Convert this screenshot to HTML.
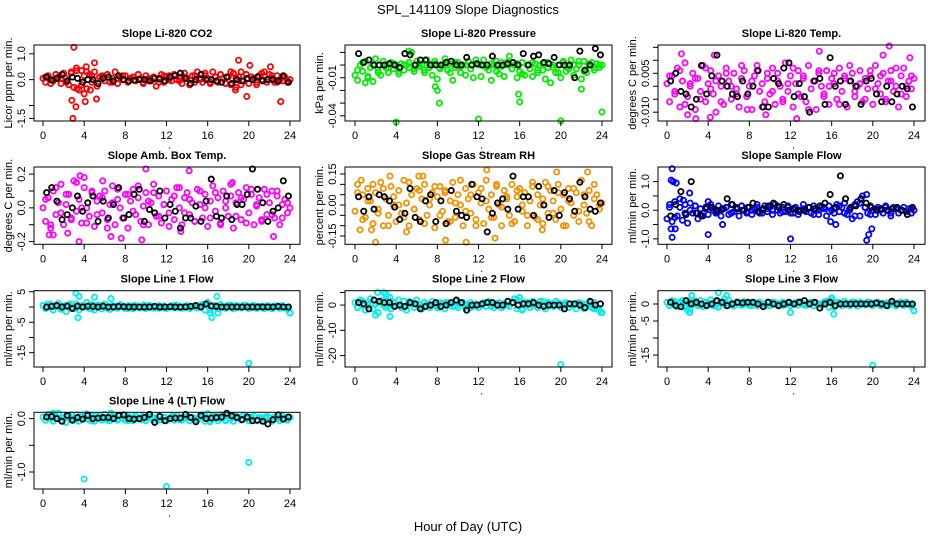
<!DOCTYPE html>
<html><head><meta charset="utf-8">
<style>
html,body{margin:0;padding:0;background:#fff;}
svg{display:block;font-family:"Liberation Sans",sans-serif;}
</style></head>
<body>
<svg id="chart" width="936" height="540" viewBox="0 0 936 540" xmlns="http://www.w3.org/2000/svg">
<rect x="0" y="0" width="936" height="540" fill="#fff"/>
<text x="468" y="14" font-size="13" text-anchor="middle">SPL_141109  Slope Diagnostics</text>
<text x="468" y="531" font-size="13" text-anchor="middle">Hour of Day (UTC)</text>
</svg>
<script>
const xTicks = [0,4,8,12,16,20,24];

const co2Colored = [0.05,-0.1,0.15,0.0,-0.05,0.2,0.1,-0.15,0.25,0.05,-0.2,0.3,-0.3,0.45,-0.4,0.35,0.15,-0.35,0.2,-0.1,0.3,-0.25,0.1,0.15,-0.05,0.2,-0.1,0.05,0.3,-0.15,0.1,0.0,0.15,-0.1,0.05,0.1,-0.05,0.2,0.05,-0.1,0.15,0.0,-0.05,0.1,-0.25,0.05,0.2,-0.1,0.1,0.15,-0.05,0.2,0.0,0.1,-0.15,0.25,0.05,-0.2,0.15,-0.1,0.3,0.0,-0.1,0.15,0.05,-0.15,0.3,0.1,-0.1,0.2,0.05,-0.15,0.1,-0.2,0.25,-0.3,0.1,0.3,-0.05,0.2,-0.15,0.1,0.05,-0.2,0.15,0.0,0.3,-0.1,0.2,0.05,-0.1,0.15,0.0,-0.05,0.1,-0.1,0.0];
const co2Colored2 = [0.1,-0.15,0.2,0.05,-0.1,0.25,0.35,-0.2,0.3,0.15,-0.25,0.1,0.2,-0.1,0.05,0.15,-0.05,0.1,0.2,-0.15,0.05,0.1,-0.1,0.15,0.0,0.2,-0.05,0.1,-0.2,0.15,0.05,0.25,-0.1,0.1,0.2,-0.15,0.3,0.05,-0.2,0.2,0.1,-0.1,0.25,0.0,0.15,-0.1,0.1,-0.05];
const co2Outliers = [[3.0,1.25],[2.9,-1.5],[2.8,-0.8],[3.2,-1.05],[3.3,-0.35],[4.1,-0.85],[4.0,-0.55],[4.6,-0.4],[5.0,0.65],[5.2,-0.75],[4.2,0.5],[19.0,0.75],[19.8,-0.65],[20.1,0.55],[22.1,0.5],[23.1,-0.85],[18.7,-0.4]];
const co2Black = [0.1,-0.02,0.05,0.2,-0.05,0.1,0.05,-0.1,0.0,0.0,-0.15,0.05,0.1,-0.05,0.15,0.0,-0.05,-0.02,0.0,0.0,-0.05,0.05,0.02,-0.05,0.1,0.15,0.25,0.05,-0.15,0.0,0.2,0.0,0.0,-0.05,-0.1,0.1,-0.15,0.0,-0.05,0.05,0.0,0.1,-0.05,0.0,0.0,-0.05,0.15,-0.1];

const presColored = [-0.008,-0.012,0.0,-0.005,0.003,-0.01,-0.002,-0.013,0.005,-0.004,-0.008,0.0,-0.002,-0.006,0.002,-0.003,0.0,-0.007,0.001,-0.004,0.0,-0.002,0.01,-0.005,0.003,-0.001,0.0,-0.006,0.004,-0.002,-0.008,0.001,-0.011,-0.003,0.0,0.005,-0.004,0.001,-0.012,-0.002,0.002,-0.006,0.0,-0.008,0.003,-0.003,-0.01,0.001,0.0,-0.009,0.004,-0.002,-0.004,-0.012,0.0,0.003,-0.007,-0.001,-0.009,0.002,0.007,-0.003,0.0,-0.01,-0.005,0.002,-0.008,0.0,-0.003,-0.009,0.001,-0.006,0.0,-0.004,-0.011,0.002,-0.014,-0.002,-0.006,0.0,-0.01,0.003,-0.005,-0.001,0.004,-0.008,-0.003,0.0,-0.011,0.003,-0.006,0.0,0.002,-0.004,0.001,-0.002,0.0];
const presColored2 = [-0.004,0.002,-0.009,0.0,-0.006,0.003,-0.002,0.001,-0.005,0.0,0.002,-0.003,0.001,-0.004,0.0,0.003,-0.002,0.0,-0.006,0.002,-0.001,0.0,-0.003,0.004,0.0,-0.002,0.001,-0.005,0.002,0.0,-0.003,0.001,-0.007,0.0,0.002,-0.004,0.001,-0.002,0.0,-0.006,0.002,-0.003,0.0,0.003,-0.005,0.001,-0.002,0.0];
const presOutliers = [[1.0,-0.014],[5.2,0.011],[8.0,-0.02],[8.2,-0.03],[4.0,-0.045],[12.0,-0.0425],[15.9,-0.023],[16.0,-0.029],[20.0,-0.044],[24.0,-0.037],[7.8,-0.017],[22.0,-0.019]];
const presBlack = [0.009,0.002,0.004,0.0,0.0,0.0,0.001,0.0,-0.002,0.009,0.008,0.0,0.004,0.004,0.0,0.0,0.0,0.002,0.003,0.0,0.0,0.006,0.0,0.001,0.0,0.0,0.007,0.0,0.0,0.001,0.002,0.0,0.009,0.0,0.007,0.008,0.002,0.001,0.006,0.0,0.0,0.0,-0.01,0.011,-0.004,0.0,0.013,0.008];

const tempColored = [0.001,-0.006,0.004,-0.003,0.007,-0.008,0.002,0.009,-0.004,0.0,0.005,-0.009,0.003,-0.002,0.008,-0.006,0.001,0.006,-0.003,-0.01,0.004,0.0,-0.007,0.007,0.002,-0.005,0.005,-0.001,-0.008,0.003,0.006,-0.004,0.0,-0.009,0.004,0.008,-0.002,0.001,-0.006,0.005,-0.003,0.007,-0.007,0.002,0.0,-0.005,0.009,-0.002,0.004,-0.008,0.001,0.006,-0.004,0.003,-0.006,0.008,-0.001,0.002,-0.009,0.005,0.0,-0.003,0.006,-0.007,0.003,0.001,-0.005,0.007,-0.002,0.004,-0.008,0.002,0.005,-0.004,0.0,0.006,-0.006,0.003,-0.001,0.004,-0.007,0.008,0.001,-0.003,0.005,-0.005,0.002,0.006,-0.002,0.0,-0.008,0.004,0.007,-0.004,0.002,-0.001,0.003];
const tempColored2 = [0.004,-0.002,0.006,-0.007,0.001,0.003,-0.005,0.007,-0.001,0.002,-0.006,0.005,0.0,-0.003,0.008,-0.004,0.002,0.006,-0.008,0.003,-0.002,0.005,-0.006,0.001,0.007,-0.003,0.004,-0.009,0.002,0.006,-0.004,0.0,0.005,-0.007,0.003,0.008,-0.002,0.001,-0.005,0.006,-0.001,0.004,-0.006,0.002,0.007,-0.003,0.0,0.004];
const tempOutliers = [[2.0,-0.011],[2.8,-0.0125],[4.2,-0.012],[1.4,0.0125],[4.6,0.012],[9.6,-0.011],[12.6,-0.0125],[14.8,0.0135],[21.6,0.0155],[21.0,0.012],[23.6,0.011],[7.8,-0.009]];
const tempBlack = [0.002,0.005,-0.002,-0.003,-0.008,-0.005,0.008,-0.003,0.004,0.012,0.002,0.0,-0.003,-0.004,0.002,-0.003,0.0,0.006,-0.008,-0.008,0.003,0.001,0.007,0.009,-0.004,0.001,-0.004,-0.01,0.002,0.003,-0.007,0.011,0.0,0.002,-0.007,0.002,0.0,-0.007,0.002,0.003,-0.003,-0.006,0.0,-0.006,-0.003,0.0,-0.001,-0.008];

const ambColored = [0.0,-0.08,0.06,-0.12,0.1,-0.04,0.03,0.14,-0.1,0.02,0.08,-0.06,0.16,-0.02,0.05,-0.09,0.12,0.0,-0.05,0.09,-0.11,0.04,0.07,-0.03,0.1,-0.07,0.02,0.13,-0.1,0.05,0.0,-0.06,0.08,-0.12,0.04,0.11,-0.04,0.06,-0.08,0.01,0.09,-0.1,0.03,0.14,-0.05,0.07,-0.09,0.02,0.1,-0.03,0.05,-0.07,0.12,0.0,-0.1,0.06,0.09,-0.04,0.03,-0.08,0.11,0.02,-0.06,0.08,-0.11,0.04,0.13,-0.02,0.06,-0.09,0.1,0.0,-0.05,0.07,-0.12,0.03,0.09,-0.07,0.05,0.12,-0.03,0.08,-0.1,0.01,0.06,-0.08,0.11,-0.04,0.03,0.1,-0.06,0.07,-0.1,0.02,0.05,-0.03,0.0];
const ambColored2 = [0.05,-0.1,0.12,-0.03,0.08,-0.07,0.15,0.0,-0.09,0.1,-0.04,0.06,-0.12,0.03,0.11,-0.06,0.08,-0.02,0.13,-0.1,0.04,0.09,-0.05,0.02,-0.11,0.07,0.12,-0.03,0.05,-0.08,0.1,0.0,-0.06,0.09,-0.1,0.04,0.14,-0.05,0.06,-0.09,0.11,0.02,-0.07,0.08,-0.04,0.1,-0.06,0.03];
const ambOutliers = [[3.6,0.19],[3.5,-0.2],[1.0,-0.16],[0.6,-0.16],[2.4,-0.15],[6.6,-0.17],[7.6,-0.18],[9.6,-0.19],[10.0,0.23],[14.2,0.22],[13.4,-0.14],[22.4,-0.17],[4.0,0.18],[5.8,0.16],[18.4,0.15]];
const ambBlack = [0.09,0.12,0.04,-0.07,-0.04,0.0,0.07,-0.02,0.03,0.07,-0.08,0.04,-0.06,0.02,0.12,-0.06,-0.04,0.08,0.11,-0.08,-0.01,-0.03,0.1,-0.06,0.02,-0.02,-0.12,-0.06,-0.06,0.01,-0.08,0.04,0.17,-0.05,-0.06,0.07,-0.07,0.02,0.02,0.08,0.23,0.11,0.03,-0.08,-0.02,0.0,0.16,0.07];

const rhColored = [-0.03,0.1,-0.12,0.05,-0.06,0.08,0.02,-0.09,0.06,-0.02,0.11,-0.1,0.03,-0.05,0.09,0.0,-0.08,0.07,-0.04,0.12,0.01,-0.1,0.05,-0.02,0.08,-0.07,0.03,0.1,-0.05,0.0,0.06,-0.11,0.04,0.09,-0.03,0.07,-0.08,0.02,0.11,-0.06,0.05,0.0,-0.1,0.08,0.03,-0.04,0.1,-0.07,0.06,0.01,-0.09,0.12,-0.02,0.05,-0.06,0.09,0.0,-0.1,0.07,0.03,-0.05,0.1,-0.08,0.04,0.08,-0.03,0.06,-0.1,0.02,0.09,-0.06,0.05,0.0,-0.09,0.11,-0.04,0.07,0.02,-0.07,0.1,-0.02,0.05,-0.1,0.08,0.01,-0.05,0.06,-0.08,0.12,0.0,-0.04,0.07,-0.1,0.03,0.05,-0.02,0.01];
const rhColored2 = [0.06,-0.07,0.02,0.1,-0.04,0.08,-0.1,0.04,0.0,-0.06,0.11,-0.02,0.07,-0.09,0.03,0.09,-0.05,0.06,-0.08,0.01,0.12,-0.03,0.05,-0.1,0.08,0.02,-0.06,0.1,-0.01,0.04,-0.09,0.07,0.0,-0.05,0.11,-0.07,0.03,0.09,-0.04,0.06,-0.1,0.02,0.08,-0.03,0.05,-0.08,0.1,0.0];
const rhOutliers = [[2.0,-0.18],[1.6,-0.12],[3.4,0.14],[6.2,0.14],[6.6,0.14],[5.0,-0.13],[8.8,-0.17],[10.8,-0.18],[12.8,0.17],[13.6,-0.16],[18.2,-0.12],[19.6,0.16],[22.6,0.16],[0.6,0.12]];
const rhBlack = [0.04,-0.03,0.04,-0.02,0.05,0.04,0.02,-0.01,-0.07,-0.04,0.08,-0.06,-0.08,0.02,0.05,-0.08,0.02,-0.09,0.07,-0.03,-0.05,-0.06,0.1,0.04,0.03,-0.13,-0.04,0.01,0.03,-0.02,0.14,-0.02,0.04,0.04,-0.05,0.09,0.0,-0.06,0.07,-0.05,0.06,0.03,-0.03,0.11,0.04,-0.02,-0.03,0.01];

const sampColored = [-0.3,0.1,-0.4,0.3,-0.2,0.4,-0.35,0.2,-0.45,0.25,-0.1,0.15,-0.3,0.05,-0.2,0.1,-0.15,0.2,0.0,-0.1,0.15,-0.2,0.05,0.1,-0.15,0.2,-0.05,0.1,-0.2,0.15,0.0,-0.1,0.1,-0.15,0.05,0.2,-0.1,0.0,0.15,-0.05,0.1,-0.15,0.2,0.0,-0.1,0.1,-0.05,0.15,-0.1,0.05,0.1,-0.15,0.0,0.2,-0.05,0.1,-0.1,0.15,0.0,-0.15,0.1,0.05,-0.2,0.15,0.0,-0.1,0.2,-0.05,0.1,0.25,-0.15,0.05,-0.3,0.2,0.3,-0.2,0.5,0.1,-0.1,0.15,0.0,-0.15,0.1,0.05,-0.1,0.15,0.0,-0.2,0.1,0.05,-0.1,0.0,0.1,-0.05,0.05,-0.1,0.0];
const sampColored2 = [0.2,-0.25,0.1,-0.1,0.0,0.15,-0.15,0.05,0.1,-0.05,0.0,0.1,-0.1,0.05,0.15,-0.05,0.0,0.1,-0.1,0.05,0.0,0.15,-0.05,0.1,-0.1,0.0,0.05,0.1,-0.15,0.0,0.1,-0.05,0.05,0.15,-0.1,0.0,-0.2,0.25,0.1,-0.15,0.05,0.0,0.1,-0.1,0.05,0.0,-0.05,0.05];
const sampOutliers = [[0.5,1.45],[0.4,1.05],[0.6,1.0],[0.9,0.95],[0.4,-0.65],[0.5,-0.95],[0.8,-0.65],[2.2,0.6],[1.6,0.35],[4.0,-0.85],[5.4,-0.5],[12.0,-1.0],[16.4,-0.5],[19.4,-1.05],[19.6,-0.85],[19.9,-0.65],[19.4,0.55],[4.0,0.3],[15.9,-0.4]];
const sampBlack = [-0.2,0.2,0.65,-0.15,1.0,-0.1,-0.2,0.1,0.1,0.0,0.05,0.4,0.2,0.05,0.0,0.1,0.25,-0.05,0.05,0.15,0.25,0.1,0.2,0.0,0.05,-0.05,0.0,0.1,0.05,0.15,0.25,0.55,0.1,1.2,0.4,0.1,0.15,0.4,0.25,0.1,0.0,0.05,0.0,0.05,0.1,0.0,-0.15,0.1];

const l1Colored = [0.5,-0.5,1.0,0.0,-1.0,0.5,1.2,-0.8,0.3,-1.5,0.8,0.0,-0.5,1.0,-1.0,0.5,0.0,1.5,-0.5,0.8,-1.0,0.2,0.6,-0.6,1.0,0.0,-0.8,0.5,0.3,-0.4,0.8,0.0,-0.5,0.4,0.2,-0.6,0.5,0.0,-0.3,0.6,-0.5,0.2,0.4,-0.4,0.1,0.5,-0.2,0.3,-0.5,0.0,0.4,-0.3,0.6,0.0,-0.4,0.3,0.5,-0.5,0.2,0.0,-0.3,0.5,0.8,-1.0,1.5,-2.0,0.5,0.0,-0.5,0.8,0.2,-0.4,0.6,0.0,-0.6,0.5,0.2,-0.3,0.6,0.0,-0.5,0.3,0.5,-0.4,0.2,0.0,-0.5,0.4,0.2,-0.6,0.3,0.0,-0.4,0.5,0.0,-0.3,-2.0];
const l1Colored2 = [-0.5,0.8,0.0,-0.6,0.5,1.0,-0.3,0.4,0.0,-0.5,0.6,0.2,-0.4,0.5,0.0,0.3,-0.5,0.4,0.0,-0.3,0.5,0.2,-0.4,0.3,0.0,0.5,-0.2,0.3,-0.5,0.0,0.4,0.8,-1.0,0.5,0.0,-0.4,0.6,0.2,-0.3,0.5,0.0,-0.4,0.3,0.2,-0.5,0.4,0.0,-0.8];
const l1Outliers = [[3.2,4.5],[3.5,3.5],[3.4,-3.5],[5.0,3.2],[6.6,2.8],[16.4,-3.5],[16.9,3.5],[17.0,-2.0],[20.0,-18.5],[24.0,-2.0]];
const l1Black = [0.0,0.2,0.5,0.0,0.3,-0.5,0.3,0.0,0.3,0.2,0.0,0.3,0.0,0.0,0.2,0.1,0.0,0.0,0.0,0.0,0.0,0.2,0.0,0.0,0.1,0.0,0.0,0.0,0.2,0.5,0.0,1.0,0.3,0.2,0.0,0.0,0.0,0.0,0.0,0.0,0.0,0.0,0.0,0.0,0.0,0.2,0.0,0.0];

const l2Colored = [1.0,-1.0,2.0,0.0,-2.0,1.0,2.5,-1.5,0.5,-3.0,1.5,0.0,-1.0,2.0,-1.5,1.0,0.0,2.0,-1.0,1.5,-2.0,0.5,1.0,-1.0,2.0,0.0,-1.5,1.0,0.5,-1.0,1.5,0.0,-1.0,1.0,0.5,-1.5,1.0,0.0,-0.5,1.5,-1.0,0.5,1.0,-1.0,0.0,1.0,-0.5,0.5,-1.0,0.0,1.0,-0.5,1.5,0.0,-1.0,0.5,1.0,-1.0,0.5,0.0,-0.5,1.0,2.5,-1.5,3.0,-2.0,1.0,0.0,-1.0,1.5,0.5,-1.0,1.5,0.0,-1.5,1.0,0.5,-0.5,1.5,0.0,-1.0,0.5,1.0,-1.0,0.5,0.0,-1.5,1.0,0.5,-1.5,0.5,0.0,-1.0,1.0,-1.5,-2.0,-3.0];
const l2Colored2 = [-1.0,1.5,0.0,-1.5,1.0,2.0,-0.5,1.0,0.0,-1.0,1.5,0.5,-1.0,1.0,0.0,0.5,-1.0,1.0,0.0,-0.5,1.0,0.5,-1.0,0.5,0.0,1.0,-0.5,0.5,-1.0,0.0,1.0,2.0,-1.5,1.0,0.0,-1.0,1.5,0.5,-0.5,1.0,0.0,-1.0,0.5,0.5,-1.0,1.0,-1.5,-2.0];
const l2Outliers = [[2.2,5.0],[2.8,5.0],[3.0,4.5],[3.4,3.0],[2.0,-4.0],[3.4,-4.5],[20.0,-23.5],[23.9,-3.0]];
const l2Black = [1.0,0.5,-1.5,2.0,1.5,1.0,1.0,-0.5,0.0,-0.5,1.0,0.5,-1.5,-0.5,0.0,1.0,-0.5,0.0,1.0,2.0,1.0,-2.0,0.0,0.0,0.5,1.0,1.0,0.0,0.0,1.5,1.0,0.0,0.5,0.5,1.0,0.0,-0.5,0.0,0.0,0.0,-1.5,0.5,0.5,0.0,-1.0,1.5,0.0,0.5];

const l3Colored = [0.5,-0.5,1.0,0.0,-0.8,0.5,1.0,-1.0,0.3,-1.5,0.6,0.0,-0.5,1.0,-0.8,0.5,0.0,1.2,-0.5,0.6,-1.0,0.2,0.5,-0.5,1.0,0.0,-0.6,0.5,0.3,-0.4,0.7,0.0,-0.4,0.4,0.2,-0.5,0.5,0.0,-0.3,0.6,-0.5,0.2,0.4,-0.4,0.1,0.5,-0.2,0.3,-0.5,0.0,0.4,-0.3,0.6,0.0,-0.4,0.3,0.5,-0.5,0.2,0.0,-0.3,0.5,0.8,-1.0,1.2,-1.0,0.5,0.0,-0.5,0.8,0.2,-0.4,0.6,0.0,-0.6,0.5,0.2,-0.3,0.6,0.0,-0.5,0.3,0.5,-0.4,0.2,0.0,-0.5,0.4,0.2,-0.6,0.3,0.0,-0.4,0.5,0.0,-0.3,-2.0];
const l3Colored2 = [-0.4,0.7,0.0,-0.5,0.4,0.9,-0.3,0.3,0.0,-0.6,0.5,0.2,-0.3,0.6,0.0,0.2,-0.5,0.3,0.0,-0.4,0.5,0.1,-0.4,0.3,0.0,0.6,-0.2,0.2,-0.6,0.0,0.5,0.7,-0.9,0.4,0.0,-0.5,0.5,0.2,-0.2,0.4,0.0,-0.5,0.3,0.1,-0.4,0.5,0.0,-0.7];
const l3Outliers = [[2.2,-2.5],[2.0,-1.8],[2.4,2.5],[5.0,3.3],[5.6,1.5],[5.8,2.5],[12.0,-2.5],[16.0,1.8],[16.2,-3.0],[20.0,-18.0],[24.0,-2.0]];
const l3Black = [0.5,-0.5,-0.8,1.0,0.0,0.5,0.0,-0.5,0.0,1.0,0.5,-0.5,0.0,0.5,0.3,0.5,0.5,0.0,-0.8,0.5,0.0,-0.5,0.0,0.5,0.0,0.5,1.0,0.0,0.5,-1.2,0.0,0.5,-0.5,0.0,0.0,0.0,0.0,0.0,0.0,0.0,0.3,0.0,-0.5,0.8,0.0,0.0,0.0,0.0];

const l4Colored = [0.03,-0.03,0.08,0.0,-0.05,0.05,0.1,-0.04,0.02,-0.07,0.06,0.0,-0.03,0.07,-0.05,0.04,0.0,0.09,-0.03,0.05,-0.05,0.02,0.06,-0.03,0.08,0.0,-0.04,0.05,0.02,-0.03,0.06,0.0,-0.03,0.04,0.02,-0.04,0.05,0.0,-0.02,0.06,-0.04,0.02,0.04,-0.03,0.01,0.05,-0.02,0.03,-0.04,0.0,0.04,-0.03,0.06,0.0,-0.03,0.03,0.05,-0.04,0.02,0.0,-0.03,0.05,0.07,-0.05,0.09,-0.04,0.05,0.0,-0.04,0.07,0.02,-0.04,0.06,0.0,-0.05,0.05,0.02,-0.03,0.06,0.0,-0.04,0.03,0.05,-0.04,0.02,0.0,-0.05,0.04,0.02,-0.05,0.03,0.0,-0.04,0.05,0.0,-0.03,0.02];
const l4Colored2 = [-0.03,0.05,0.0,-0.04,0.03,0.07,-0.02,0.03,0.0,-0.04,0.05,0.01,-0.03,0.04,0.0,0.02,-0.04,0.03,0.0,-0.02,0.04,0.01,-0.03,0.02,0.0,0.04,-0.02,0.02,-0.04,0.0,0.03,0.06,-0.06,0.04,0.0,-0.03,0.05,0.01,-0.02,0.04,0.0,-0.03,0.02,0.01,-0.04,0.03,0.0,-0.02];
const l4Outliers = [[4.0,-1.13],[12.0,-1.27],[20.0,-0.82],[6.6,0.1],[1.0,0.1]];
const l4Black = [0.03,0.04,0.0,-0.05,0.06,-0.03,0.02,-0.01,0.06,0.0,0.01,0.02,0.02,0.0,0.06,0.07,0.0,-0.01,0.0,0.02,0.08,-0.07,0.04,-0.04,0.0,0.01,0.01,0.08,0.02,-0.06,0.06,0.0,0.01,0.02,0.03,0.1,0.05,0.02,-0.02,0.03,-0.04,-0.03,-0.05,-0.1,-0.02,0.07,-0.01,0.03];

const panels = [
 {name:'co2',title:'Slope Li-820 CO2',ylab:'Licor ppm per min.',col:0,row:0,dom:[-1.6,1.34],ticks:[1.0,0.0,-1.0,-1.5],labels:['1.0','0.0',null,'-1.5'],color:'#ff0000',c:co2Colored,c2:co2Colored2,o:co2Outliers,b:co2Black},
 {name:'pressure',title:'Slope Li-820 Pressure',ylab:'kPa per min.',col:1,row:0,dom:[-0.0441,0.0158],ticks:[0.01,0,-0.01,-0.02,-0.03,-0.04],labels:[null,null,'-0.01',null,null,'-0.04'],color:'#00ee00',c:presColored,c2:presColored2,o:presOutliers,b:presBlack},
 {name:'temp',title:'Slope Li-820 Temp.',ylab:'degrees C per min.',col:2,row:0,dom:[-0.0134,0.0159],ticks:[0.015,0.01,0.005,0,-0.005,-0.01],labels:[null,null,'0.005',null,null,'-0.010'],color:'#ff00ff',c:tempColored,c2:tempColored2,o:tempOutliers,b:tempBlack},
 {name:'amb-box-temp',title:'Slope Amb. Box Temp.',ylab:'degrees C per min.',col:0,row:1,dom:[-0.216,0.242],ticks:[0.2,0.1,0,-0.1,-0.2],labels:['0.2',null,'0.0',null,'-0.2'],color:'#ff00ff',c:ambColored,c2:ambColored2,o:ambOutliers,b:ambBlack},
 {name:'gas-rh',title:'Slope Gas Stream RH',ylab:'percent per min.',col:1,row:1,dom:[-0.19,0.184],ticks:[0.15,0.1,0.05,0,-0.05,-0.1,-0.15],labels:['0.15',null,null,'0.00',null,null,'-0.15'],color:'#f59000',c:rhColored,c2:rhColored2,o:rhOutliers,b:rhBlack},
 {name:'sample-flow',title:'Slope Sample Flow',ylab:'ml/min per min.',col:2,row:1,dom:[-1.19,1.51],ticks:[1.0,0.5,0,-0.5,-1.0],labels:['1.0',null,'0.0',null,'-1.0'],color:'#0000ff',c:sampColored,c2:sampColored2,o:sampOutliers,b:sampBlack},
 {name:'line1-flow',title:'Slope Line 1 Flow',ylab:'ml/min per min.',col:0,row:2,dom:[-19.7,5.35],ticks:[5,0,-5,-10,-15],labels:['5',null,'-5',null,'-15'],color:'#00eeee',c:l1Colored,c2:l1Colored2,o:l1Outliers,b:l1Black},
 {name:'line2-flow',title:'Slope Line 2 Flow',ylab:'ml/min per min.',col:1,row:2,dom:[-24.5,5.7],ticks:[5,0,-10,-20],labels:[null,'0','-10','-20'],color:'#00eeee',c:l2Colored,c2:l2Colored2,o:l2Outliers,b:l2Black},
 {name:'line3-flow',title:'Slope Line 3 Flow',ylab:'ml/min per min.',col:2,row:2,dom:[-18.5,3.9],ticks:[0,-5,-10,-15],labels:['0','-5',null,'-15'],color:'#00eeee',c:l3Colored,c2:l3Colored2,o:l3Outliers,b:l3Black},
 {name:'line4-flow',title:'Slope Line 4 (LT) Flow',ylab:'ml/min per min.',col:0,row:3,dom:[-1.318,0.118],ticks:[0.0,-0.5,-1.0],labels:['0.0',null,'-1.0'],color:'#00eeee',c:l4Colored,c2:l4Colored2,o:l4Outliers,b:l4Black}
];

const NS='http://www.w3.org/2000/svg';
const svg=document.getElementById('chart');
const colLeft=[34,345,658], colRight=[300,612,925];
const colX0=[43,355,667], colX24=[290,602,914];
const rowTop=[45,167,290.7,412.3], rowBot=[121,244.3,367,489];
function mk(tag,attrs,parent){const e=document.createElementNS(NS,tag);for(const k in attrs)e.setAttribute(k,attrs[k]);(parent||svg).appendChild(e);return e;}

panels.forEach(p=>{
  const g=mk('g',{});
  
  
  const L=colLeft[p.col],R=colRight[p.col],T=rowTop[p.row],B=rowBot[p.row];
  const xs=h=>colX0[p.col]+(colX24[p.col]-colX0[p.col])*h/24;
  const ys=v=>B-(v-p.dom[0])/(p.dom[1]-p.dom[0])*(B-T);
  const pts=mk('g',{},g);
  
  
  const n=p.c.length;
  p.c.forEach((v,i)=>{
    const c=mk('circle',{cx:xs(i*24/(n-1)),cy:ys(v),r:2.6,fill:'none',stroke:p.color,'stroke-width':1.8},pts);
    
    
  });
  const n2=p.c2.length;
  p.c2.forEach((v,i)=>{
    const c=mk('circle',{cx:xs((i+0.5)*24/n2),cy:ys(v),r:2.6,fill:'none',stroke:p.color,'stroke-width':1.8},pts);
    
    
  });
  p.o.forEach(d=>{
    const c=mk('circle',{cx:xs(d[0]),cy:ys(d[1]),r:2.6,fill:'none',stroke:p.color,'stroke-width':1.8},pts);
    
    
  });
  const nb=p.b.length;
  p.b.forEach((v,i)=>{
    const c=mk('circle',{cx:xs((i+0.7)*24/nb),cy:ys(v),r:2.6,fill:'none',stroke:'#000','stroke-width':1.8},pts);
    
    
  });
  const box=mk('rect',{x:L,y:T,width:R-L,height:B-T,fill:'none',stroke:'#000','stroke-width':1},g);
  
  
  const t=mk('text',{x:(L+R)/2,y:T-8,'font-size':11,'font-weight':'bold','text-anchor':'middle'},g);
  t.textContent=p.title;
  
  
  xTicks.forEach(h=>{
    const x=xs(h);
    mk('line',{x1:x,x2:x,y1:B,y2:B+5,stroke:'#000'},g);
    const tl=mk('text',{x:x,y:B+18,'font-size':11,'text-anchor':'middle'},g);
    tl.textContent=h;
    
    
  });
  mk('circle',{cx:xs(12.3),cy:B+27,r:0.6,fill:'#000'},g);
  p.ticks.forEach((v,i)=>{
    const y=ys(v);
    mk('line',{x1:L-5,x2:L,y1:y,y2:y,stroke:'#000'},g);
    if(p.labels[i]!==null){
      const yl=mk('text',{x:0,y:0,'font-size':11,'text-anchor':'middle',transform:`translate(${L-9},${y}) rotate(-90)`},g);
      yl.textContent=p.labels[i];
      
      
    }
  });
  const yt=mk('text',{x:0,y:0,'font-size':11,'text-anchor':'middle',transform:`translate(${L-22},${(T+B)/2}) rotate(-90)`},g);
  yt.textContent=p.ylab;
  
  
});
</script>
</body></html>
